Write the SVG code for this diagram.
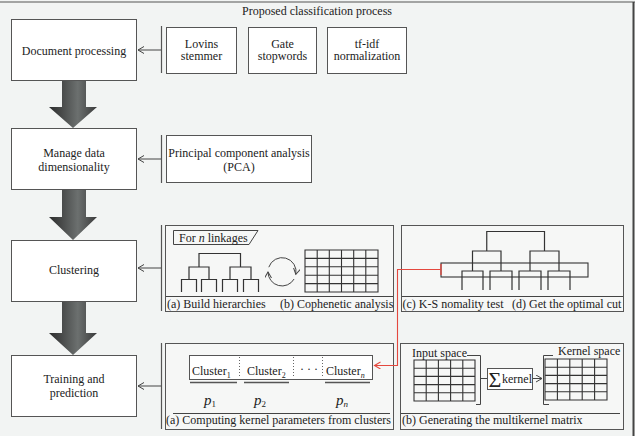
<svg xmlns="http://www.w3.org/2000/svg" width="635" height="436" viewBox="0 0 635 436">
<defs>
<linearGradient id="g" x1="0" y1="0" x2="1" y2="0">
<stop offset="0" stop-color="#2c2c2c"/>
<stop offset="0.6" stop-color="#6c706f"/>
<stop offset="1" stop-color="#3a3a3a"/>
</linearGradient>
<marker id="ah" markerWidth="8" markerHeight="8" refX="6" refY="3.5" orient="auto" markerUnits="userSpaceOnUse">
<path d="M0,0 L6,3.5 L0,7" fill="none" stroke="#444" stroke-width="1"/>
</marker>
<marker id="ahr" markerWidth="8" markerHeight="8" refX="6" refY="3.5" orient="auto" markerUnits="userSpaceOnUse">
<path d="M0,0 L6,3.5 L0,7" fill="none" stroke="#e4483e" stroke-width="1.1"/>
</marker>
</defs>
<style>
text{font-family:"Liberation Serif","Times New Roman",serif;font-size:12px;fill:#222}
.m{text-anchor:middle}
.box{fill:#fff;stroke:#555;stroke-width:1}
.panel{fill:#f6f7f6;stroke:#555;stroke-width:1}
.ln{fill:none;stroke:#444;stroke-width:1}
.br{fill:none;stroke:#555;stroke-width:1.2}
.dg{fill:none;stroke:#333;stroke-width:1.2}
.grid{fill:none;stroke:#333;stroke-width:1.1}
.big{fill:url(#g)}
.arr{fill:none;stroke:#444;stroke-width:1;marker-end:url(#ah)}
.it{font-style:italic}
text.p{font-size:15px;font-style:italic}
.sub{font-size:8px}
.psub{font-size:9px}
text.sig{font-size:22px}
</style>
<rect x="0" y="0" width="635" height="436" fill="#f2f4f3"/>
<line x1="0" y1="2" x2="635" y2="2" stroke="#555" stroke-width="1.2"/>
<line x1="633.5" y1="2" x2="633.5" y2="436" stroke="#444" stroke-width="2"/>
<text class="m" x="317" y="15">Proposed classification process</text>

<g id="doc">
<rect class="box" x="11.5" y="19.5" width="125" height="61"/>
<text class="m" x="74" y="55">Document processing</text>
</g>
<g id="lovins">
<rect class="box" x="166.5" y="27.5" width="70" height="46"/>
<text class="m" x="201.5" y="47.5">Lovins</text>
<text class="m" x="201.5" y="60">stemmer</text>
</g>
<g id="gate">
<rect class="box" x="248.5" y="27.5" width="68" height="46"/>
<text class="m" x="282.5" y="47.5">Gate</text>
<text class="m" x="282.5" y="60">stopwords</text>
</g>
<g id="tfidf">
<rect class="box" x="327.5" y="27.5" width="79" height="46"/>
<text class="m" x="367" y="47.5">tf-idf</text>
<text class="m" x="367" y="60">normalization</text>
</g>

<g id="manage">
<rect class="box" x="11.5" y="128.5" width="125" height="61"/>
<text class="m" x="74" y="157">Manage data</text>
<text class="m" x="74" y="170.5">dimensionality</text>
</g>
<g id="pca">
<rect class="box" x="166.5" y="135.5" width="145" height="47"/>
<text class="m" x="239" y="157">Principal component analysis</text>
<text class="m" x="239" y="170.5">(PCA)</text>
</g>

<g id="clustering">
<rect class="box" x="11.5" y="240.5" width="125" height="61"/>
<text class="m" x="74" y="274">Clustering</text>
</g>

<g id="cluster-ab">
<rect class="panel" x="165.5" y="225.5" width="228" height="86"/>
<path class="ln" d="M173.5,230.5 H258 L249,244.5 H173.5 Z" fill="#fff"/>
<text x="179" y="241.5">For <tspan class="it">n</tspan> linkages</text>
<path class="dg" d="M199,267 V253.5 H240.5 V267 M189,280 V267 H209 V280 M230,280 V267 H251 V280 M181.5,292 V279.5 H196.5 V292 M201.5,292 V279.5 H216.5 V292 M222.5,292 V279.5 H237.5 V292 M243.5,292 V279.5 H258.5 V292"/>
<path class="ln" d="M268.8,267.2 A14,14 0 0 1 295.8,274.4" marker-end="url(#ah)"/>
<path class="ln" d="M294.1,279 A14,14 0 0 1 268,272" marker-end="url(#ah)"/>
<path class="grid" d="M305,250 H378 V292 H305 Z M317.2,250 V292 M329.3,250 V292 M341.5,250 V292 M353.7,250 V292 M365.8,250 V292 M305,258.4 H378 M305,266.8 H378 M305,275.2 H378 M305,283.6 H378"/>
<line class="ln" x1="166" y1="296.5" x2="393" y2="296.5"/>
<text x="167" y="307.5">(a) Build hierarchies</text>
<text x="280" y="307.5">(b) Cophenetic analysis</text>
</g>

<g id="cluster-cd">
<rect class="panel" x="401.5" y="225.5" width="222" height="86"/>
<path class="dg" d="M486.75,251 V231.5 H544.5 V251 M472.5,271 V251 H501 V271 M530,271 V251 H559 V271 M462,290 V271 H483 V290 M490,290 V271 H512 V290 M519,290 V271 H541 V290 M548,290 V271 H570 V290"/>
<rect x="441" y="263" width="147" height="14" fill="none" stroke="#333" stroke-width="1.1"/>
<line class="ln" x1="402" y1="296.5" x2="623" y2="296.5"/>
<text x="402.5" y="307.5">(c) K-S nomality test</text>
<text x="512" y="307.5">(d) Get the optimal cut</text>
</g>

<g id="training">
<rect class="box" x="11.5" y="355.5" width="125" height="61"/>
<text class="m" x="74" y="383">Training and</text>
<text class="m" x="74" y="396.5">prediction</text>
</g>

<g id="train-a">
<rect class="panel" x="165.5" y="343.5" width="228" height="86"/>
<rect x="189.5" y="355.5" width="183" height="24" fill="#fff" stroke="#555" stroke-width="1"/>
<path d="M239.5,357 V378 M293.5,357 V378 M322.5,357 V378" stroke="#666" stroke-width="1" stroke-dasharray="1,2"/>
<text x="192" y="375">Cluster<tspan class="sub" dy="3">1</tspan></text>
<text x="247" y="375">Cluster<tspan class="sub" dy="3">2</tspan></text>
<text x="300" y="373">· · ·</text>
<text x="326" y="375">Cluster<tspan class="sub it" dy="3">n</tspan></text>
<path d="M190,382.5 H237 M244,382.5 H289 M325,382.5 H370" stroke="#555" stroke-width="1.6"/>
<text class="p" x="204" y="405">p<tspan class="psub" dy="2" font-style="normal" style="font-style:normal">1</tspan></text>
<text class="p" x="254" y="405">p<tspan class="psub" dy="2" style="font-style:normal">2</tspan></text>
<text class="p" x="336" y="405">p<tspan class="psub" dy="2">n</tspan></text>
<line class="ln" x1="173" y1="413.5" x2="390" y2="413.5"/>
<text x="166" y="424">(a) Computing kernel parameters from clusters</text>
</g>

<g id="train-b">
<rect class="panel" x="400.5" y="343.5" width="223" height="86"/>
<text x="412" y="357">Input space</text>
<path class="ln" d="M467,355.5 H480.5 V404.5 H476 M480.5,378.5 H487"/>
<path class="grid" d="M414,360 H475 V401 H414 Z M426.2,360 V401 M438.4,360 V401 M450.6,360 V401 M462.8,360 V401 M414,368.2 H475 M414,376.4 H475 M414,384.6 H475 M414,392.8 H475"/>
<rect x="487.5" y="368.5" width="45" height="21" fill="#fff" stroke="#555" stroke-width="1"/>
<text class="sig" x="488.5" y="387">Σ</text>
<text x="502" y="382.5">kernel</text>
<line class="arr" x1="533" y1="378.5" x2="542" y2="378.5"/>
<path class="ln" d="M553,355.5 H543.5 V404.5 H549"/>
<path class="grid" d="M545,359 H607 V400 H545 Z M557.4,359 V400 M569.8,359 V400 M582.2,359 V400 M594.6,359 V400 M545,367.2 H607 M545,375.4 H607 M545,383.6 H607 M545,391.8 H607"/>
<text x="558" y="355">Kernel space</text>
<line class="ln" x1="401" y1="413.5" x2="620" y2="413.5"/>
<text x="402" y="424">(b) Generating the multikernel matrix</text>
</g>

<g id="connectors">
<polygon class="big" points="62,81 86,81 86,107 97,107 73,128 49,107 62,107"/>
<polygon class="big" points="62,190 86,190 86,217 97,217 73,240 49,217 62,217"/>
<polygon class="big" points="62,302 86,302 86,333 97,333 73,355 49,333 62,333"/>
<line class="br" x1="161.5" y1="26" x2="161.5" y2="73"/>
<line class="arr" x1="161" y1="50" x2="138" y2="50"/>
<line class="br" x1="161.5" y1="135" x2="161.5" y2="183"/>
<line class="arr" x1="161" y1="159" x2="138" y2="159"/>
<line class="br" x1="161.5" y1="225" x2="161.5" y2="311"/>
<line class="arr" x1="161" y1="268" x2="138" y2="268"/>
<line class="br" x1="161.5" y1="343" x2="161.5" y2="429"/>
<line class="arr" x1="161" y1="386" x2="138" y2="386"/>
<path d="M441,269.5 H397.5 V365.5 H374.5" fill="none" stroke="#e4483e" stroke-width="1.1" marker-end="url(#ahr)"/>
<line x1="441" y1="264" x2="441" y2="275" stroke="#e4483e" stroke-width="1.3"/>
</g>
</svg>
